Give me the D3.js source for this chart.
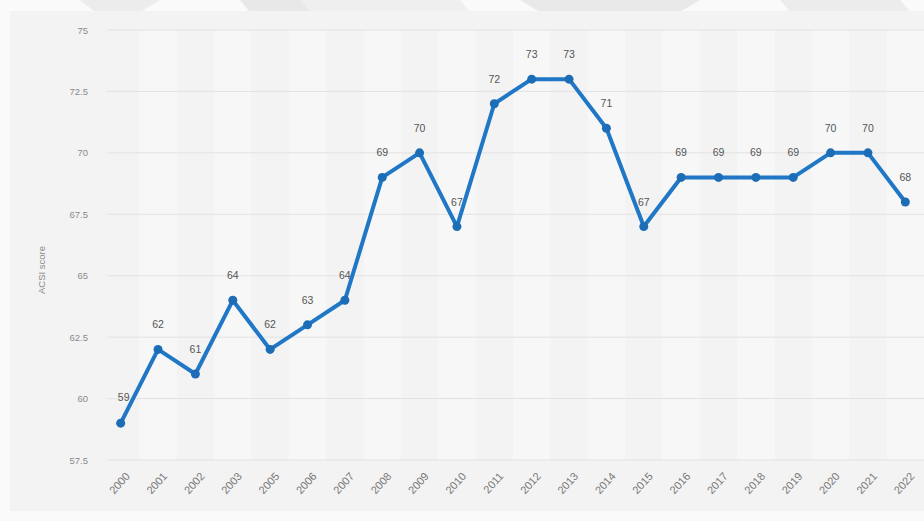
<!DOCTYPE html>
<html>
<head>
<meta charset="utf-8">
<script src="https://cdn.jsdelivr.net/npm/d3@7"></script>
<style>
  body { margin: 0; background: #fff; }
  svg { display: block; font-family: "Liberation Sans", Arial, sans-serif; }
</style>
</head>
<body>
<div id="chart"></div>
<script>
// ACSI score by year
var years = ["2000","2001","2002","2003","2005","2006","2007","2008","2009","2010","2011",
             "2012","2013","2014","2015","2016","2017","2018","2019","2020","2021","2022"];
var scores = [59, 62, 61, 64, 62, 63, 64, 69, 70, 67, 72, 73, 73, 71, 67, 69, 69, 69, 69, 70, 70, 68];
var yTicks = [57.5, 60, 62.5, 65, 67.5, 70, 72.5, 75];

var width = 924,
    height = 521;

var svg = d3.select("#chart")
    .append("svg")
    .attr("width", width)
    .attr("height", height);

// faint watermark shapes behind the panel
svg.append("rect").attr("x", 0).attr("y", 0).attr("width", width).attr("height", height).attr("fill", "#fafafa");
svg.append("path").attr("d", "M80,0 L160,0 L140,12 L95,12 Z").attr("fill", "#ececec");
svg.append("path").attr("d", "M240,0 L300,0 L320,12 L250,12 Z").attr("fill", "#e8e8e8");
svg.append("path").attr("d", "M300,0 L460,0 L470,12 L310,12 Z").attr("fill", "#efefef");
svg.append("path").attr("d", "M520,0 L700,0 L680,12 L540,12 Z").attr("fill", "#e9e9e9");
svg.append("path").attr("d", "M780,0 L900,0 L910,12 L790,12 Z").attr("fill", "#ececec");

// panel
svg.append("rect")
    .attr("x", 10).attr("y", 11)
    .attr("width", width - 10).attr("height", height - 21)
    .attr("fill", "#f3f3f3");

var x = d3.scaleBand()
    .domain(years)
    .range([102, 924]);

var y = d3.scaleLinear()
    .domain([57.5, 75])
    .range([460, 30]);

// alternating column bands
svg.append("g").selectAll("rect")
    .data(years.filter(function(d, i) { return i % 2 === 1; }))
    .enter().append("rect")
    .attr("x", function(d) { return x(d); })
    .attr("y", 30)
    .attr("width", x.bandwidth())
    .attr("height", 430)
    .attr("fill", "#f7f7f7");

// grid lines
svg.append("g").selectAll("line")
    .data(yTicks)
    .enter().append("line")
    .attr("x1", 107).attr("x2", width)
    .attr("y1", function(d) { return y(d); })
    .attr("y2", function(d) { return y(d); })
    .attr("stroke", "#e2e2e2")
    .attr("stroke-width", 1);

// y axis labels
var yAxis = svg.append("g")
    .attr("transform", "translate(88,0)")
    .call(d3.axisLeft(y).tickValues(yTicks).tickSize(0).tickPadding(0)
        .tickFormat(function(d) { return String(d); }));
yAxis.select(".domain").remove();
yAxis.selectAll("text")
    .attr("fill", "#8a8a8a")
    .style("font-size", "9.5px");

// y title
svg.append("text")
    .attr("transform", "translate(45,270) rotate(-90)")
    .attr("text-anchor", "middle")
    .attr("fill", "#8a8a8a")
    .style("font-size", "9.5px")
    .text("ACSI score");

// x axis labels
var xAxis = svg.append("g")
    .attr("transform", "translate(0,474)")
    .call(d3.axisBottom(x).tickSize(0).tickPadding(0));
xAxis.select(".domain").remove();
xAxis.selectAll("text")
    .attr("fill", "#777")
    .style("font-size", "11px")
    .attr("text-anchor", "end")
    .attr("dy", "0.35em")
    .attr("transform", "translate(7,0) rotate(-48)");

var cx = function(d, i) { return x(years[i]) + x.bandwidth() / 2; };

var line = d3.line()
    .x(function(d, i) { return cx(d, i); })
    .y(function(d) { return y(d); });

svg.append("path")
    .datum(scores)
    .attr("fill", "none")
    .attr("stroke", "#1f77c6")
    .attr("stroke-width", 4)
    .attr("stroke-linejoin", "round")
    .attr("d", line);

svg.append("g").selectAll("circle")
    .data(scores)
    .enter().append("circle")
    .attr("cx", cx)
    .attr("cy", function(d) { return y(d); })
    .attr("r", 4.5)
    .attr("fill", "#1c6db5");

// value labels
svg.append("g").selectAll("text")
    .data(scores)
    .enter().append("text")
    .attr("x", function(d, i) { return i === 0 ? cx(d, i) + 3 : cx(d, i); })
    .attr("y", function(d, i) { return i === 0 ? y(d) - 22 : y(d) - 21; })
    .attr("text-anchor", "middle")
    .attr("fill", "#555")
    .style("font-size", "10.5px")
    .text(function(d) { return d; });
</script>
</body>
</html>
